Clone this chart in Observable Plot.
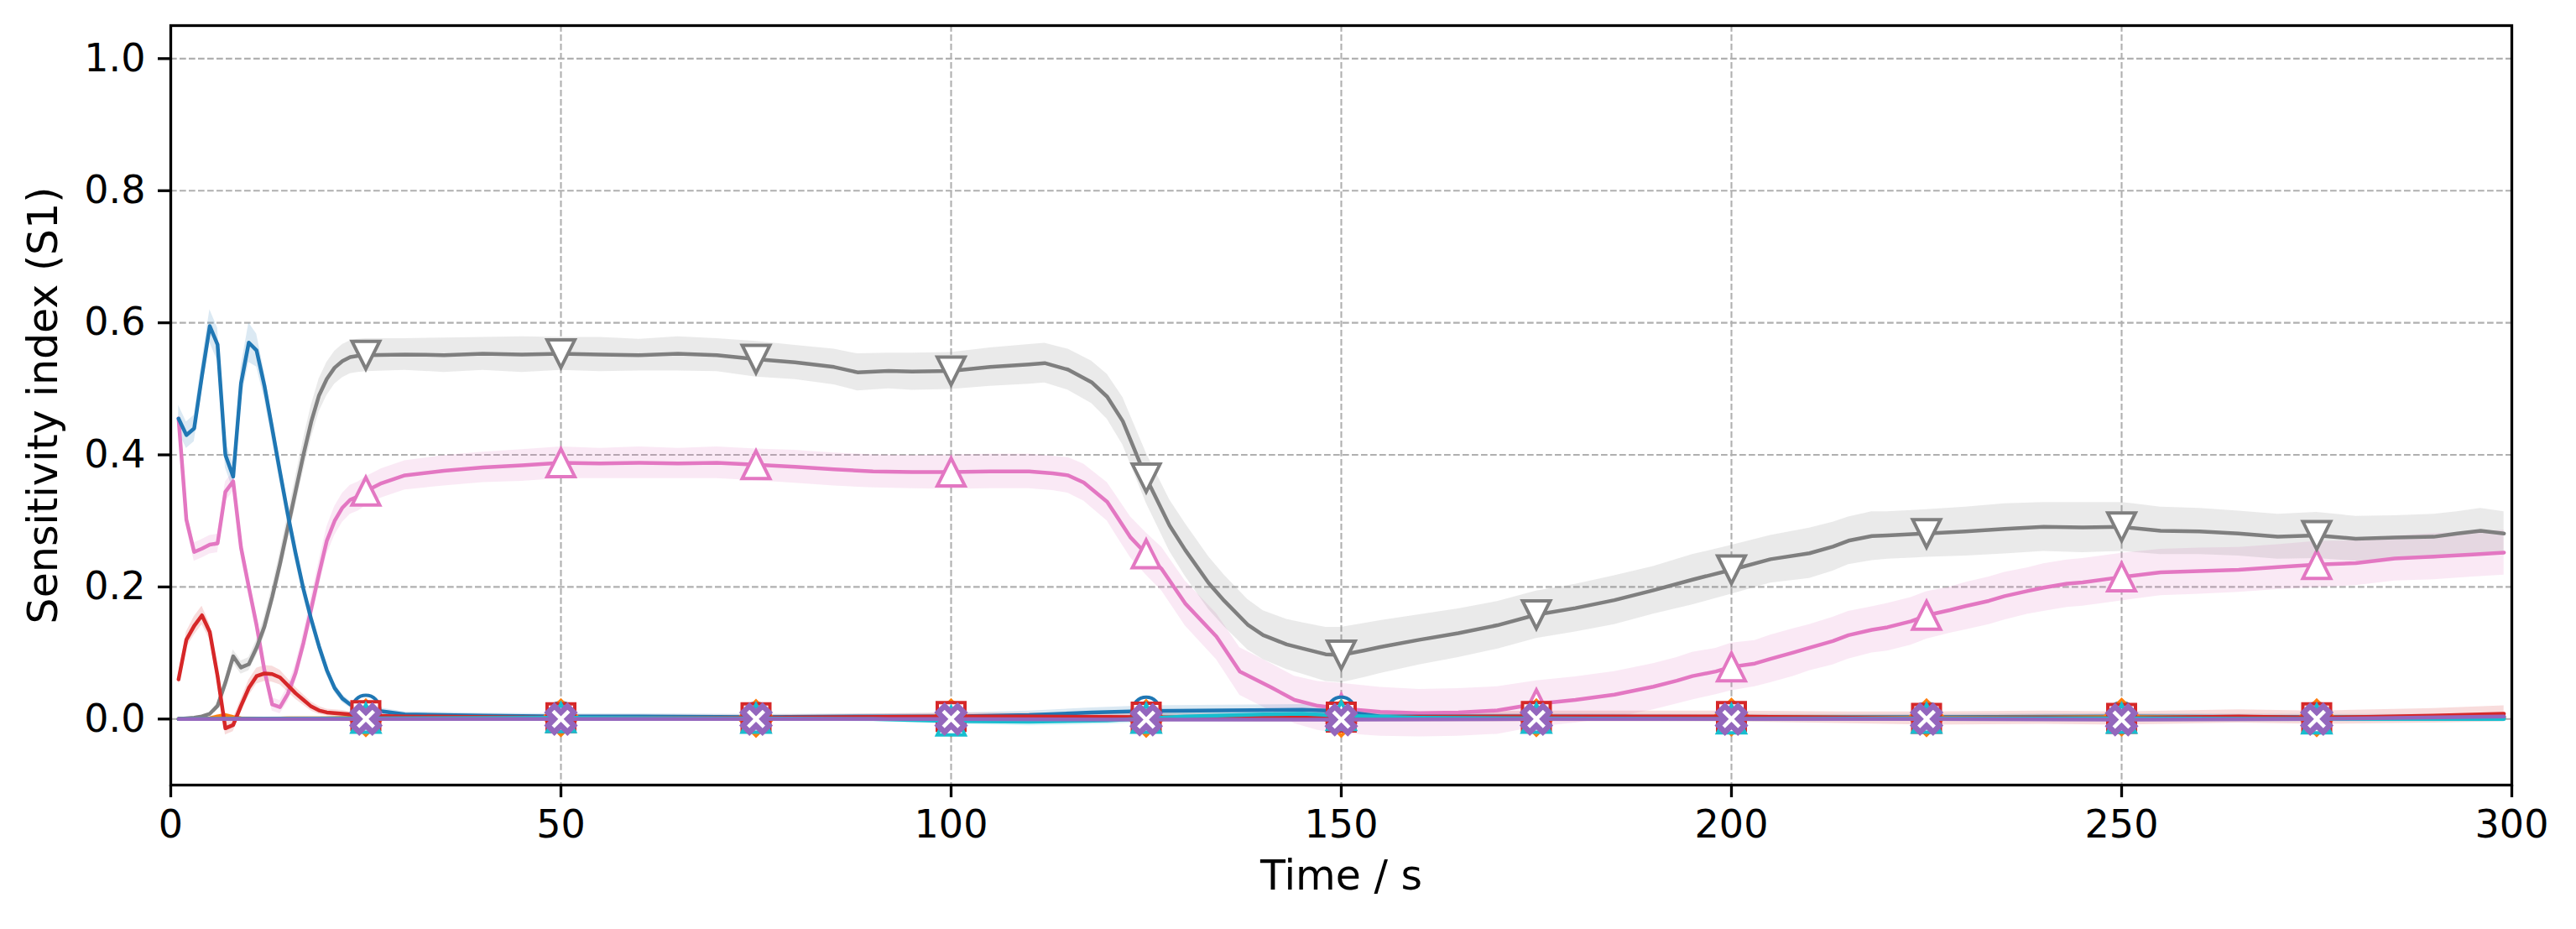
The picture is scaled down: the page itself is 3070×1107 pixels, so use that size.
<!DOCTYPE html>
<html><head><meta charset="utf-8">
<script src="https://cdn.jsdelivr.net/npm/d3@7"></script>
<script src="https://cdn.jsdelivr.net/npm/@observablehq/plot@0.6"></script>
<style>html,body{margin:0;padding:0;background:#fff;}</style>
</head><body><div id="chart"></div>
<script>
// ---------- data (time in s, first-order Sobol index S1, CI half-width) ----------
const xTicks = [0, 50, 100, 150, 200, 250, 300];
const yTicks = [0, 0.2, 0.4, 0.6, 0.8, 1.0];
const xLabel = "Time / s";
const yLabel = "Sensitivity index (S1)";

const grayT = [1,2,3,4,5,6,7,8,9,10,11,12,13,14,15,16,17,18,19,20,21,22,23,24,25,
  30,35,40,45,50,55,60,65,70,75,80,85,88,92,95,100,105,110,112,115,118,120,122,125,128,130,133,135,138,140,
  143,145,148,150,153,155,160,165,170,175,180,185,190,195,200,205,210,213,215,218,220,225,230,235,240,245,
  250,255,260,265,270,275,280,285,290,293,296,299];
const grayS1 = [0.000,0.001,0.002,0.004,0.008,0.020,0.055,0.095,0.078,0.083,0.108,0.140,0.185,0.235,0.290,0.345,0.400,0.450,0.490,0.515,0.532,0.542,0.548,0.550,0.551,
  0.552,0.551,0.553,0.552,0.553,0.552,0.551,0.553,0.551,0.545,0.540,0.533,0.525,0.527,0.526,0.527,0.533,0.537,0.539,0.529,0.510,0.488,0.451,0.365,0.293,0.256,0.206,0.179,0.143,0.127,
  0.113,0.107,0.098,0.097,0.104,0.109,0.120,0.130,0.142,0.158,0.168,0.180,0.195,0.211,0.226,0.242,0.251,0.261,0.270,0.277,0.278,0.281,0.284,0.288,0.291,0.290,
  0.291,0.285,0.284,0.281,0.276,0.278,0.273,0.275,0.276,0.281,0.285,0.281];
const grayCI = [0.002,0.002,0.002,0.002,0.002,0.005,0.008,0.010,0.010,0.010,0.012,0.014,0.016,0.018,0.020,0.022,0.024,0.025,0.025,0.025,0.025,0.025,0.025,0.025,0.025,
  0.024,0.026,0.025,0.027,0.025,0.026,0.024,0.026,0.025,0.027,0.026,0.027,0.028,0.027,0.028,0.028,0.029,0.030,0.030,0.031,0.032,0.034,0.036,0.038,0.039,0.040,0.040,0.039,0.038,0.037,
  0.038,0.039,0.041,0.042,0.041,0.040,0.038,0.037,0.036,0.036,0.036,0.037,0.036,0.038,0.037,0.036,0.038,0.037,0.036,0.037,0.036,0.036,0.037,0.038,0.037,0.038,
  0.037,0.036,0.035,0.034,0.034,0.035,0.034,0.033,0.034,0.033,0.034,0.033];

const pinkT = [1,2,3,4,5,6,7,8,9,10,11,12,13,14,15,16,17,18,19,20,21,22,23,24,25,
  27,30,35,40,45,50,55,60,65,70,75,80,85,90,95,100,105,110,113,115,117,120,121,123,125,127,130,134,137,141,
  144,147,150,155,160,165,170,175,180,185,190,193,195,198,200,203,205,208,210,213,215,218,220,223,225,228,230,233,235,238,
  240,243,245,250,255,260,265,270,275,280,285,290,295,299];
const pinkS1 = [0.455,0.302,0.253,0.258,0.264,0.266,0.344,0.360,0.260,0.200,0.142,0.074,0.022,0.018,0.038,0.070,0.115,0.167,0.220,0.270,0.300,0.320,0.332,0.337,0.345,
  0.357,0.369,0.376,0.381,0.384,0.388,0.387,0.388,0.387,0.388,0.385,0.382,0.378,0.375,0.374,0.374,0.375,0.375,0.372,0.369,0.358,0.329,0.311,0.275,0.250,0.227,0.175,0.125,0.072,0.048,
  0.029,0.020,0.016,0.011,0.009,0.010,0.013,0.023,0.029,0.037,0.049,0.058,0.065,0.072,0.079,0.084,0.091,0.101,0.108,0.118,0.127,0.135,0.139,0.148,0.157,0.165,0.171,0.179,0.186,0.194,
  0.199,0.205,0.207,0.215,0.222,0.224,0.226,0.230,0.234,0.236,0.243,0.246,0.249,0.252];
const pinkCI = [0.010,0.012,0.014,0.014,0.014,0.014,0.015,0.015,0.015,0.014,0.013,0.012,0.010,0.010,0.012,0.014,0.016,0.018,0.020,0.021,0.022,0.022,0.022,0.022,0.022,
  0.022,0.022,0.023,0.023,0.024,0.024,0.023,0.024,0.023,0.024,0.024,0.025,0.025,0.025,0.025,0.026,0.026,0.026,0.026,0.027,0.028,0.029,0.030,0.031,0.032,0.033,0.034,0.035,0.036,0.036,
  0.036,0.037,0.038,0.037,0.036,0.036,0.036,0.035,0.035,0.035,0.035,0.035,0.036,0.035,0.036,0.035,0.036,0.036,0.035,0.036,0.036,0.035,0.036,0.036,0.036,0.035,0.036,0.036,0.036,0.035,
  0.036,0.036,0.036,0.036,0.035,0.035,0.034,0.034,0.035,0.034,0.034,0.035,0.034,0.034];

const blueT = [1,2,3,4,5,6,7,8,9,10,11,12,13,14,15,16,17,18,19,20,21,22,23,24,25,
  30,40,50,60,75,90,100,110,118,125,135,145,150,155,175,200,225,250,275,299];
const blueS1 = [0.455,0.430,0.440,0.520,0.595,0.567,0.400,0.367,0.508,0.570,0.558,0.505,0.440,0.374,0.310,0.251,0.197,0.151,0.110,0.074,0.047,0.031,0.022,0.018,0.015,
  0.007,0.005,0.004,0.004,0.003,0.004,0.004,0.006,0.010,0.012,0.013,0.014,0.012,0.004,0.004,0.003,0.003,0.004,0.003,0.003];
const blueCI = [0.020,0.020,0.020,0.022,0.025,0.025,0.020,0.020,0.025,0.030,0.025,0.020,0.018,0.016,0.015,0.014,0.012,0.010,0.009,0.008,0.007,0.006,0.005,0.005,0.005,
  0.004,0.004,0.004,0.004,0.004,0.004,0.005,0.006,0.007,0.008,0.008,0.008,0.007,0.005,0.004,0.004,0.004,0.004,0.004,0.004];

const redT = [1,2,3,4,5,6,7,8,9,10,11,12,13,14,15,16,17,18,19,20,21,22,23,24,25,
  30,50,75,100,110,125,140,150,175,200,215,225,240,250,265,275,290,299];
const redS1 = [0.060,0.120,0.141,0.157,0.132,0.065,-0.014,-0.009,0.020,0.047,0.065,0.069,0.068,0.063,0.051,0.039,0.029,0.019,0.013,0.010,0.009,0.008,0.007,0.006,0.005,
  0.004,0.002,0.002,0.004,0.004,0.003,0.002,0.003,0.004,0.004,0.002,0.001,0.002,0.001,0.004,0.002,0.005,0.008];
const redCI = [0.008,0.012,0.014,0.014,0.012,0.010,0.010,0.010,0.010,0.012,0.012,0.012,0.012,0.011,0.010,0.009,0.008,0.007,0.006,0.005,0.005,0.005,0.004,0.004,0.004,
  0.004,0.004,0.004,0.005,0.005,0.006,0.006,0.007,0.008,0.008,0.009,0.010,0.010,0.010,0.010,0.010,0.011,0.012];

const orangeT = [1,4,5,6,7,8,9,12,15,20,25,50,75,100,125,150,175,200,225,250,275,299];
const orangeS1 = [0,0,0.001,0.004,0.006,0.003,0.001,0,0.001,0.001,0.002,0.002,0.001,0.002,0.001,0.001,0.002,0.003,0.002,0.003,0.002,0.004];
const orangeCI = [0.003,0.003,0.003,0.003,0.003,0.003,0.003,0.003,0.003,0.003,0.003,0.003,0.003,0.003,0.003,0.003,0.003,0.003,0.003,0.003,0.003,0.003];

const greenT = [1,25,50,75,100,125,150,175,200,225,250,275,299];
const greenS1 = [0,0.001,0.001,0,0.001,0,0,0.001,0.001,0,0.001,0.001,0.001];
const greenCI = [0.002,0.002,0.002,0.002,0.002,0.002,0.002,0.002,0.002,0.002,0.002,0.002,0.002];

const cyanT = [1,25,50,75,90,100,110,120,125,130,140,145,150,160,175,200,225,250,275,299];
const cyanS1 = [0,0.001,0.002,0.001,0,-0.003,-0.004,-0.002,0.001,0.004,0.007,0.008,0.005,0.002,0.001,0,0.001,0.001,0,0];
const cyanCI = [0.002,0.003,0.003,0.003,0.004,0.005,0.006,0.006,0.006,0.006,0.006,0.006,0.006,0.005,0.004,0.004,0.004,0.004,0.004,0.004];

const purpleT = [1,25,50,75,100,125,150,175,200,225,250,275,299];
const purpleS1 = [0,0,0,0,0,-0.001,-0.001,0,0,0,-0.001,0,0.004];
const purpleCI = [0.002,0.002,0.002,0.002,0.002,0.002,0.002,0.002,0.002,0.002,0.002,0.002,0.002];

// ---------- marker shapes (matplotlib-like) ----------
const sym = fn => ({draw(ctx, size) { fn(ctx, Math.sqrt(size / Math.PI)); }});
const poly = (ctx, pts) => { ctx.moveTo(pts[0][0], pts[0][1]); for (let i = 1; i < pts.length; i++) ctx.lineTo(pts[i][0], pts[i][1]); ctx.closePath(); };
const mCircle = sym((c, r) => { c.moveTo(r, 0); c.arc(0, 0, r, 0, 2 * Math.PI); c.closePath(); });
const mSquare = sym((c, r) => poly(c, [[-r,-r],[r,-r],[r,r],[-r,r]]));
const mDiamond = sym((c, r) => { const d = r * 1.25; poly(c, [[0,-d],[d,0],[0,d],[-d,0]]); });
const mTriUp = sym((c, r) => poly(c, [[0,-r],[r,r],[-r,r]]));
const mTriDown = sym((c, r) => poly(c, [[0,r],[r,-r],[-r,-r]]));
const mPentagon = sym((c, r) => poly(c, d3.range(5).map(i => { const a = -Math.PI/2 + i*2*Math.PI/5; return [r*Math.cos(a), r*Math.sin(a)]; })));
const mX = sym((c, r) => {
  const P = [[-1,-3],[1,-3],[1,-1],[3,-1],[3,1],[1,1],[1,3],[-1,3],[-1,1],[-3,1],[-3,-1],[-1,-1]];
  poly(c, P.map(([x, y]) => [(x - y) / Math.SQRT2 * r / 3, (x + y) / Math.SQRT2 * r / 3]));
});

const build = (T, S, C) => T.map((t, i) => ({t, s1: S[i], lo: S[i] - C[i], hi: S[i] + C[i]})).filter(d => d.s1 !== undefined && !isNaN(d.lo));

const series = [
  {color: "#e377c2", symbol: mTriUp,   sw: 4,   rows: build(pinkT, pinkS1, pinkCI)},
  {color: "#7f7f7f", symbol: mTriDown, sw: 4,   rows: build(grayT, grayS1, grayCI)},
  {color: "#1f77b4", symbol: mCircle,  sw: 4,   rows: build(blueT, blueS1, blueCI)},
  {color: "#ff7f0e", symbol: mDiamond, sw: 4,   rows: build(orangeT, orangeS1, orangeCI)},
  {color: "#2ca02c", symbol: mPentagon,sw: 4,   rows: build(greenT, greenS1, greenCI)},
  {color: "#d62728", symbol: mSquare,  sw: 4,   rows: build(redT, redS1, redCI)},
  {color: "#17becf", symbol: mTriUp,   sw: 4,   rows: build(cyanT, cyanS1, cyanCI)},
  {color: "#9467bd", symbol: mX,       sw: 6.5, rows: build(purpleT, purpleS1, purpleCI)}
];

const isMark = d => d.t % 25 === 0 && d.t >= 25 && d.t <= 275;

const marks = [
  Plot.gridY(yTicks, {stroke: "#b0b0b0", strokeOpacity: 1, strokeWidth: 2.1, strokeDasharray: "7.7,3.3"}),
  Plot.gridX(xTicks, {stroke: "#b0b0b0", strokeOpacity: 1, strokeWidth: 2.1, strokeDasharray: "7.7,3.3"})
];
for (const s of series) {
  marks.push(Plot.areaY(s.rows, {x: "t", y1: "lo", y2: "hi", fill: s.color, fillOpacity: 0.16}));
}
for (const s of series) {
  marks.push(Plot.line(s.rows, {x: "t", y: "s1", stroke: s.color, strokeWidth: 4.5}));
  marks.push(Plot.dot(s.rows.filter(isMark), {x: "t", y: "s1", symbol: s.symbol, r: 16.5, fill: "white", stroke: s.color, strokeWidth: s.sw}));
}
marks.push(
  Plot.frame({stroke: "black", strokeWidth: 3.3}),
  Plot.axisX(xTicks, {tickSize: 15, tickPadding: 15, strokeWidth: 3.3, fontSize: 46, label: null, tickFormat: d3.format("d")}),
  Plot.axisY(yTicks, {tickSize: 15, tickPadding: 15, strokeWidth: 3.3, fontSize: 46, label: null, tickFormat: d3.format(".1f")}),
  Plot.text([xLabel], {frameAnchor: "bottom", dy: 124, lineAnchor: "bottom", fontSize: 49, fill: "black"}),
  Plot.text([yLabel], {frameAnchor: "left", dx: -136, rotate: -90, lineAnchor: "bottom", textAnchor: "middle", fontSize: 49, fill: "black"})
);

const chart = Plot.plot({
  width: 3070,
  height: 1107,
  marginLeft: 203,
  marginRight: 77,
  marginTop: 30,
  marginBottom: 172,
  x: {domain: [0, 300]},
  y: {domain: [-0.1, 1.05]},
  style: {fontFamily: "DejaVu Sans", fontSize: "46px", color: "black", background: "white"},
  marks
});
document.getElementById("chart").appendChild(chart);
</script>
</body></html>
